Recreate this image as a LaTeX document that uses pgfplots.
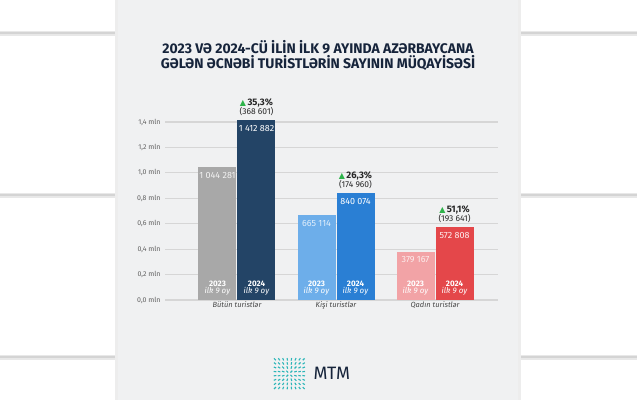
\documentclass[border=0pt]{standalone}
\usepackage{pgfplots}
\pgfplotsset{compat=1.18}
\usepackage{fontspec}
\setmainfont{Fira Sans}
\newfontfamily\sym{DejaVu Sans}
\definecolor{navytitle}{HTML}{16243B}
\definecolor{panel}{HTML}{F0F1F2}
\definecolor{cGray}{HTML}{A8A8A8}
\definecolor{cNavy}{HTML}{234466}
\definecolor{cLBlue}{HTML}{6DAEEA}
\definecolor{cBlue}{HTML}{2A7FD4}
\definecolor{cPink}{HTML}{F2A3A6}
\definecolor{cRed}{HTML}{E4474A}
\definecolor{cGreen}{HTML}{2DB34A}
\definecolor{teal}{HTML}{2BB5B8}
\begin{document}
\begin{tikzpicture}[x=1bp,y=1bp]
% background
\fill[white] (0,0) rectangle (637,400);
\foreach \yy in {33,195,357} {
  \fill[black!9] (0,400-\yy-2.5) rectangle (637,400-\yy+2.5);
  \fill[black!17] (0,400-\yy-1.2) rectangle (637,400-\yy+1.2);
}
\fill[black!7] (115,0) rectangle (521,400);
\fill[panel] (118,0) rectangle (518,400);
% title
\node[font=\bfseries\fontsize{14}{15}\selectfont, text=navytitle] at (318,400-47) {2023 VƏ 2024-CÜ İLİN İLK 9 AYINDA AZƏRBAYCANA};
\node[font=\bfseries\fontsize{14}{15}\selectfont, text=navytitle] at (318,400-63) {GƏLƏN ƏCNƏBİ TURİSTLƏRİN SAYININ MÜQAYİSƏSİ};

\begin{axis}[
  at={(165bp,100bp)}, anchor=south west,
  scale only axis, width=333bp, height=178bp,
  xmin=-0.727, xmax=2.636, ymin=0, ymax=1400000,
  clip=false,
  axis line style={draw=none},
  major tick length=0pt,
  ytick={0,200000,400000,600000,800000,1000000,1200000,1400000},
  yticklabels={{0,0 mln},{0,2 mln},{0,4 mln},{0,6 mln},{0,8 mln},{1,0 mln},{1,2 mln},{1,4 mln}},
  scaled y ticks=false,
  ymajorgrids, major grid style={draw=black!16, line width=1.1pt},
  yticklabel style={font=\fontsize{7}{8}\selectfont, text=black!62, xshift=-1bp},
  xtick={0,1,2},
  xticklabels={Bütün turistlər,Kişi turistlər,Qadın turistlər},
  xticklabel style={font=\itshape\fontsize{7.5}{8}\selectfont, text=black!72, yshift=2bp},
  /pgf/number format/assume math mode=true,
  ybar, bar width=38bp,
]
\addplot[fill=cGray, draw=none, bar shift=-19.5bp] coordinates {(0,1044281)};
\addplot[fill=cNavy, draw=none, bar shift=19.5bp] coordinates {(0,1412882)};
\addplot[fill=cLBlue, draw=none, bar shift=-19.5bp] coordinates {(1,665114)};
\addplot[fill=cBlue, draw=none, bar shift=19.5bp] coordinates {(1,840074)};
\addplot[fill=cPink, draw=none, bar shift=-19.5bp] coordinates {(2,379167)};
\addplot[fill=cRed, draw=none, bar shift=19.5bp] coordinates {(2,572808)};

% value labels
\tikzset{vl/.style={anchor=north, font=\fontsize{9}{10}\selectfont, yshift=-1.5bp},
  yl/.style={anchor=south, align=center, text=white, font=\fontsize{8}{7.8}\selectfont, yshift=1bp}}
\node[vl, text=white!85!cGray, xshift=-19.5bp] at (axis cs:0,1044281) {1 044 281};
\node[vl, text=white, xshift=19.5bp] at (axis cs:0,1412882) {1 412 882};
\node[vl, text=white!80!cLBlue, xshift=-19.5bp] at (axis cs:1,665114) {665 114};
\node[vl, text=white, xshift=19.5bp] at (axis cs:1,840074) {840 074};
\node[vl, text=white!80!cPink, xshift=-19.5bp] at (axis cs:2,379167) {379 167};
\node[vl, text=white!92!cRed, xshift=19.5bp] at (axis cs:2,572808) {572 808};
% year labels
\pgfplotsinvokeforeach{0,1,2}{
  \node[yl, xshift=-19.5bp] at (axis cs:#1,0) {\textbf{2023}\\[-0.5bp]\textit{ilk 9 oy}};
  \node[yl, xshift=19.5bp] at (axis cs:#1,0) {\textbf{2024}\\[-0.5bp]\textit{ilk 9 oy}};
}
% change annotations
\tikzset{ch/.style={anchor=south, align=center, font=\fontsize{8.5}{8.5}\selectfont, text=black!85, xshift=19.5bp, yshift=1bp}}
\node[ch] at (axis cs:0,1412882) {{\sym\fontsize{8}{8}\selectfont\textcolor{cGreen}{▲}}\,{\fontsize{9.5}{9.5}\selectfont\textbf{35,3\%}}\\[-0.5bp](368 601)};
\node[ch] at (axis cs:1,840074) {{\sym\fontsize{8}{8}\selectfont\textcolor{cGreen}{▲}}\,{\fontsize{9.5}{9.5}\selectfont\textbf{26,3\%}}\\[-0.5bp](174 960)};
\node[ch] at (axis cs:2,572808) {{\sym\fontsize{8}{8}\selectfont\textcolor{cGreen}{▲}}\,{\fontsize{9.5}{9.5}\selectfont\textbf{51,1\%}}\\[-0.5bp](193 641)};
\end{axis}

% logo
\foreach \i in {0,...,7} {
  \foreach \j in {0,...,7} {
    \pgfmathsetmacro{\cx}{275+\i*4.1}
    \pgfmathsetmacro{\cy}{400-388+\j*4.1}
    \pgfmathsetmacro{\ang}{atan2(\j-3.5,\i-3.5+0.001)}
    \draw[teal, line width=1.1pt] ({\cx-1.3*cos(\ang)},{\cy-1.3*sin(\ang)}) -- ({\cx+1.3*cos(\ang)},{\cy+1.3*sin(\ang)});
  }
}
\node[anchor=west, text=navytitle, font=\fontsize{18}{18}\selectfont] at (310,400-373.5) {MTM};
\end{tikzpicture}
\end{document}
